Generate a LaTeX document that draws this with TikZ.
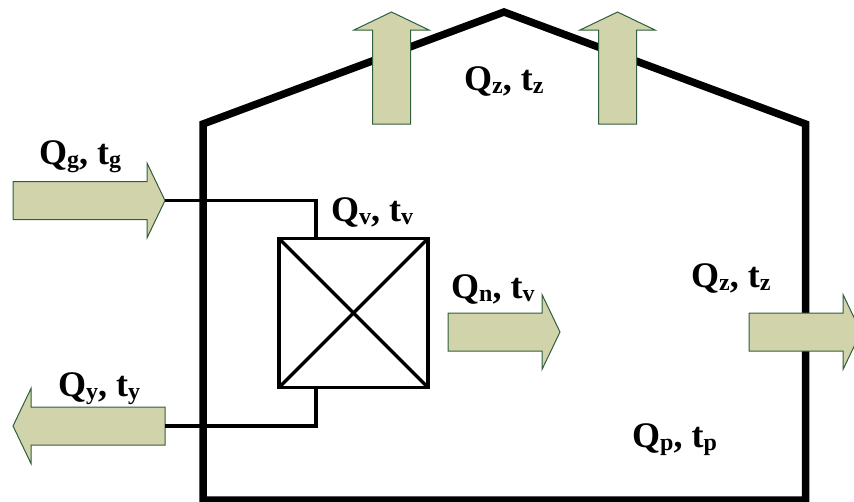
\documentclass[tikz,border=0pt]{standalone}
\usepackage{fontspec}
\setmainfont{Liberation Serif}
\definecolor{Flow}{HTML}{D1D3AB}
\definecolor{FlowEdge}{HTML}{2F5F3F}
\newcommand{\subtxt}[1]{\raisebox{-3pt}{\fontsize{24}{24}\selectfont #1}}
\tikzset{
  wall/.style={line width=7.5pt,line join=miter},
  duct/.style={line width=3.5pt},
  flowtext/.style={font=\fontsize{36}{36}\selectfont\bfseries,anchor=base west,inner sep=0pt},
}
\begin{document}
\begin{tikzpicture}[x=1pt,y=-1pt]
  \useasboundingbox (0,0) rectangle (854,501);
  \clip (0,0) rectangle (854,501);
  % house
  \draw[wall] (203,124) -- (504,12) -- (805.5,124) -- (805.5,500) -- (203,500) -- cycle;
  % exchanger
  \node[draw,duct,minimum size=149pt,inner sep=0pt,outer sep=0pt] (hx) at (353.5,313) {};
  \draw[duct] (hx.north west) -- (hx.south east);
  \draw[duct] (hx.south west) -- (hx.north east);
  \coordinate (hxin) at (316,237);
  \coordinate (hxout) at (316,389);
  % flows: name/tip x/tip y/angle/length
  \foreach \nam/\xx/\yy/\ang/\len in {
    gin/165/200.5/0/152,
    yout/13/426/180/152,
    nout/560/332/0/112,
    zright/861/332/0/112,
    zleft/391.5/12/90/112,
    zmid/617.5/12/90/112} {
    \begin{scope}[shift={(\xx,\yy)},rotate=\ang]
      \filldraw[fill=Flow,draw=FlowEdge,line width=1pt]
        (-\len,-19) -- (-18,-19) -- (-18,-37.5) -- (0,0) -- (-18,37.5) -- (-18,19) -- (-\len,19) -- cycle;
      \coordinate (\nam) at (0,0);
      \coordinate (\nam tail) at (-\len,0);
    \end{scope}
  }
  \draw[duct] (gin) -| (hxin);
  \draw[duct] (youttail) -| (hxout);
  % labels
  \foreach \nam/\xx/\yy/\qs/\ts in {
    labg/39/164/g/g,
    laby/58/396/y/y,
    labv/331/221/v/v,
    labn/451/298/n/v,
    labtop/464/90/z/z,
    labz/691/287/z/z,
    labp/632/447/p/p} {
    \node[flowtext] (\nam) at (\xx,\yy) {Q\subtxt{\qs}, t\subtxt{\ts}};
  }
\end{tikzpicture}
\end{document}
